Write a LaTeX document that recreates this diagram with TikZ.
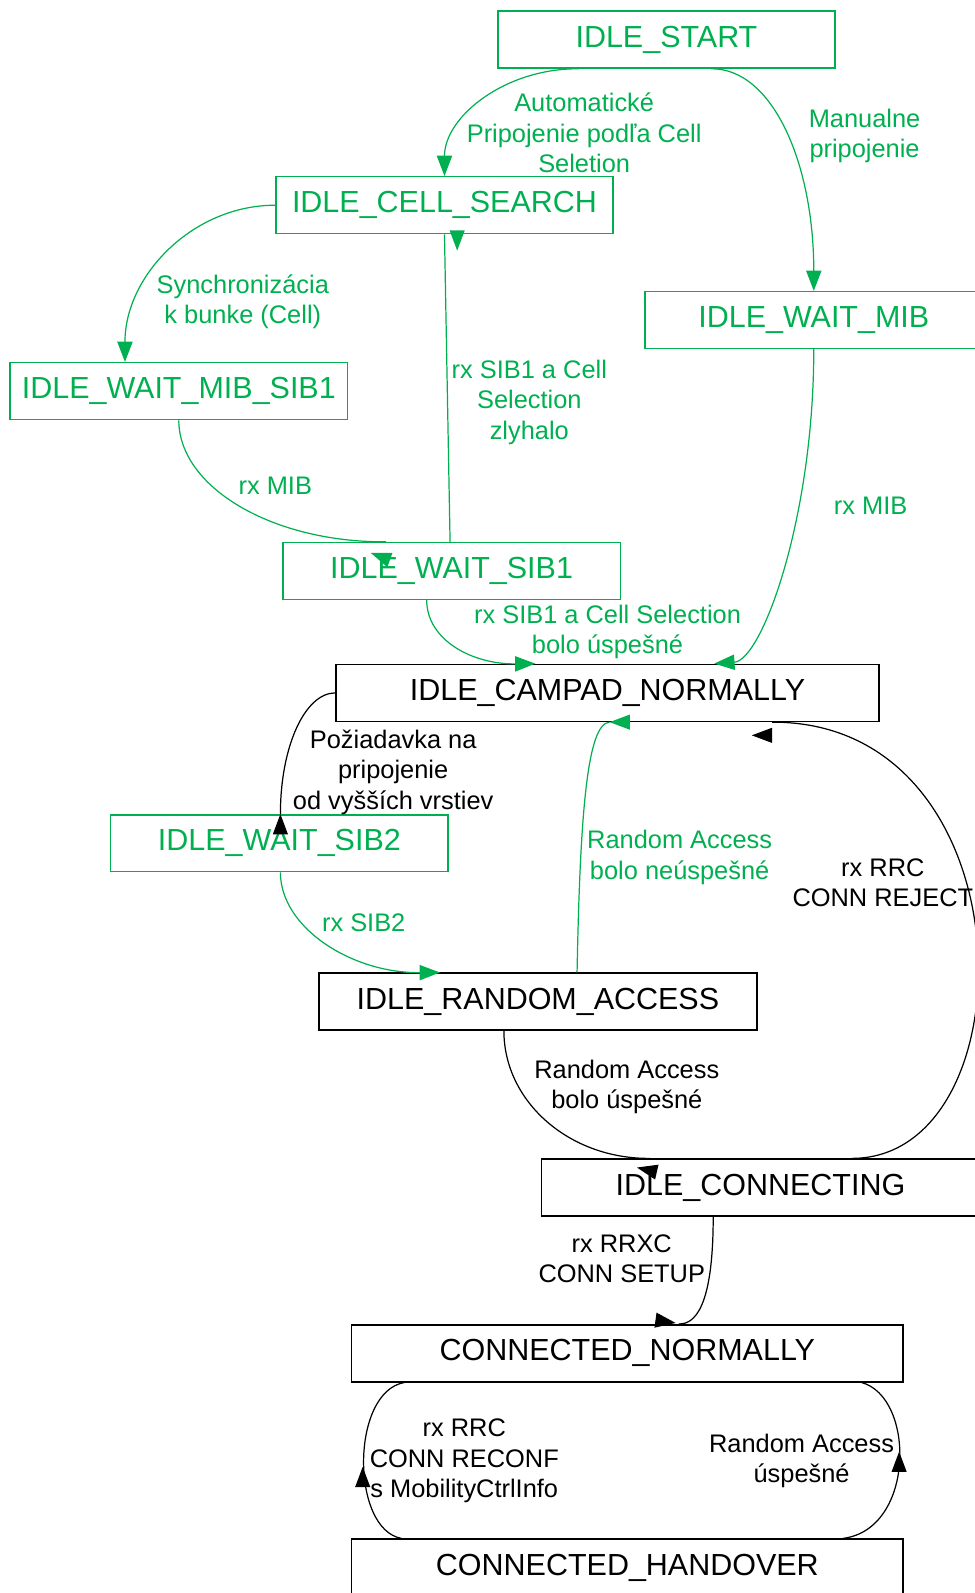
\documentclass[tikz,border=0pt]{standalone}
\usepackage{fontspec}
\setmainfont{Liberation Sans}
\usetikzlibrary{arrows.meta,calc}
\definecolor{StateGreen}{HTML}{00B050}
\newcommand{\tipmark}[3]{\fill[#1,shift={(#2)},rotate=#3] (0,0) -- (-20,7.5) -- (-20,-7.5) -- cycle;}

\begin{document}
\begin{tikzpicture}[x=1pt,y=-1pt,>={Triangle[length=20pt,width=15pt]}]
  \tikzstyle{gstate}=[draw=StateGreen,text=StateGreen,line width=1.4pt,
    minimum width=332pt,minimum height=56pt,inner sep=0pt,
    font=\fontsize{30}{35}\selectfont]
  \tikzstyle{kstate}=[gstate,draw=black,text=black,line width=1.6pt]
  \tikzstyle{glbl}=[text=StateGreen,align=center,inner sep=0pt,
    font=\fontsize{25}{30}\selectfont]
  \tikzstyle{klbl}=[glbl,text=black]
  \tikzstyle{gline}=[draw=StateGreen,line width=1.2pt]
  \tikzstyle{kline}=[draw=black,line width=1.2pt]
  \useasboundingbox (0,0) rectangle (959,1568);

  % states
  \node[gstate] (start) at (656,39) {IDLE\_START};
  \node[gstate] (cell) at (437.5,202) {IDLE\_CELL\_SEARCH};
  \node[gstate] (waitmib) at (801,315) {IDLE\_WAIT\_MIB};
  \node[gstate] (mibsib1) at (176,385) {IDLE\_WAIT\_MIB\_SIB1};
  \node[gstate] (sib1) at (444.5,562) {IDLE\_WAIT\_SIB1};
  \node[kstate,minimum width=534pt] (campad) at (598,682) {IDLE\_CAMPAD\_NORMALLY};
  \node[gstate] (sib2) at (275,830) {IDLE\_WAIT\_SIB2};
  \node[kstate,minimum width=431pt] (random) at (529.5,986) {IDLE\_RANDOM\_ACCESS};
  \node[kstate,minimum width=431pt] (connecting) at (748.5,1169) {IDLE\_CONNECTING};
  \node[kstate,minimum width=543pt] (normally) at (617.5,1332) {CONNECTED\_NORMALLY};
  \node[kstate,minimum width=543pt] (handover) at (617.5,1543) {CONNECTED\_HANDOVER};

  % transition labels
  \node[glbl] (lauto) at (575,131) {Automatické\\Pripojenie podľa Cell\\Seletion};
  \node[glbl] (lmanual) at (851,134) {Manualne\\pripojenie};
  \node[glbl] (lsync) at (239,297) {Synchronizácia\\k bunke (Cell)};
  \node[glbl] (lfail) at (521,396) {rx SIB1 a Cell\\Selection\\zlyhalo};
  \node[glbl] (lmiba) at (271,478) {rx MIB};
  \node[glbl] (lmibb) at (857,498) {rx MIB};
  \node[glbl] (lsibok) at (598,622) {rx SIB1 a Cell Selection\\bolo úspešné};
  \node[klbl] (lrequest) at (387,760) {Požiadavka na\\pripojenie\\od vyšších vrstiev};
  \node[glbl] (lsib2) at (358,908) {rx SIB2};
  \node[glbl] (lrafail) at (669,844) {Random Access\\bolo neúspešné};
  \node[klbl] (lreject) at (869,869) {rx RRC\\CONN REJECT};
  \node[klbl] (lraok) at (617,1070) {Random Access\\bolo úspešné};
  \node[klbl] (lsetup) at (612,1239) {rx RRXC\\CONN SETUP};
  \node[klbl] (lreconf) at (457,1438) {rx RRC\\CONN RECONF\\s MobilityCtrlInfo};
  \node[klbl] (lhook) at (789,1438) {Random Access\\úspešné};

  % idle transitions
  \draw[gline,->] ([xshift=-86pt]start.south) .. controls (497,67) and (437.5,115) .. (cell.north);
  \draw[gline,->] ([xshift=44pt]start.south) .. controls (760,67) and (801,160) .. (waitmib.north);
  \draw[gline,->] (cell.west) .. controls (190,202) and (123,271) .. ([xshift=-53pt]mibsib1.north);
  \draw[gline] ([xshift=-1.5pt]sib1.north) -- (cell.south);
  \tipmark{StateGreen}{$(cell.south)+(12.5,16)$}{-90}
  \draw[gline] (mibsib1.south) .. controls (176,479) and (267,534) .. ([xshift=-64.5pt]sib1.north);
  \tipmark{StateGreen}{$(sib1.north)+(-79.5,11)$}{160}
  \draw[gline,->] ([xshift=-24.5pt]sib1.south) .. controls (420,630) and (465,654) .. ([xshift=-71pt]campad.north);
  \draw[gline,->] (waitmib.south) .. controls (801,510) and (750,650) .. ([xshift=105pt]campad.north);
  \draw[kline] (campad.west) .. controls (300,682) and (276,735) .. ([xshift=1pt]sib2.north);
  \tipmark{black}{$(sib2.north)+(1,0)$}{90}
  \draw[gline,->] ([xshift=1pt]sib2.south) .. controls (276,913) and (346,958) .. ([xshift=-96.5pt]random.north);
  \draw[gline] ([xshift=38.5pt]random.north) .. controls (571,800) and (578,712) .. ([xshift=2pt]campad.south);
  \tipmark{StateGreen}{$(campad.south)+(2,0)$}{180}
  \draw[kline] ([xshift=89.5pt]connecting.north) .. controls (1016,1141) and (1016,710) .. ([xshift=162pt]campad.south);
  \tipmark{black}{$(campad.south)+(142,13)$}{180}
  \draw[kline] ([xshift=-33.5pt]random.south) .. controls (496,1084) and (560,1141) .. ([xshift=-108.5pt]connecting.north);
  \tipmark{black}{$(connecting.north)+(-121.5,9)$}{167}

  % connected transitions
  \draw[kline] ([xshift=-46.5pt]connecting.south) .. controls (702,1270) and (690,1304) .. ([xshift=50.5pt]normally.north);
  \tipmark{black}{$(normally.north)+(47.5,-1)$}{-8}
  \draw[kline] ([xshift=-219.5pt]normally.south) .. controls (345,1370) and (345,1505) .. ([xshift=-222.5pt]handover.north);
  \tipmark{black}{$(normally.south)+(-260.5,83)$}{90}
  \draw[kline] ([xshift=212.5pt]handover.north) .. controls (901,1505) and (901,1375) .. ([xshift=230.5pt]normally.south);
  \tipmark{black}{$(normally.south)+(267.5,68)$}{90}
\end{tikzpicture}
\end{document}
